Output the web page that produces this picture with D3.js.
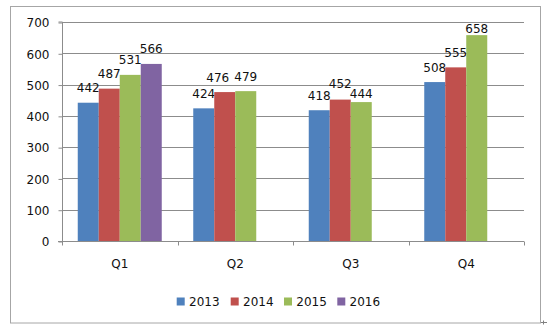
<!DOCTYPE html>
<html>
<head>
<meta charset="utf-8">
<script src="https://cdn.jsdelivr.net/npm/d3@7"></script>
<style>
html,body{margin:0;padding:0;background:#fff;}
svg{display:block;}
text{font-family:"DejaVu Sans",Verdana,sans-serif;font-size:12px;fill:#111;}
</style>
</head>
<body>
<svg id="chart" width="548" height="329"></svg>
<script>
const categories = ["Q1","Q2","Q3","Q4"];
const seriesNames = ["2013","2014","2015","2016"];
const v2013 = [442,424,418,508];
const v2014 = [487,476,452,555];
const v2015 = [531,479,444,658];
const v2016 = [566,null,null,null];
const yTicks = [0,100,200,300,400,500,600,700];
const colors = ["#4F81BD","#C0504D","#9BBB59","#8064A2"];

const seriesValues = [v2013,v2014,v2015,v2016];
const svg = d3.select("#chart");

// hand-placed label nudges seen in the original (layout only)
const labelNudge = {"Q2|2014":[-7,0], "Q3|2014":[0,-1.5], "Q3|2015":[0,6], "Q4|2015":[0,8]};

// frame
svg.append("rect").attr("x",10.5).attr("y",6.5).attr("width",530).attr("height",316.5)
  .attr("fill","none").attr("stroke","#a6a6a6").attr("stroke-width",1);

const plot = {l:62, r:524, t:22, b:241};
const x = d3.scaleBand().domain(categories).range([plot.l, plot.r]).paddingInner(0).paddingOuter(0);
// Excel gap width 150%: group = 4 bars + 1.5 bar gap
const barW = x.bandwidth()/5.5;
const xSub = d3.scaleBand().domain(seriesNames).range([barW*0.75, barW*4.75]);
const y = d3.scaleLinear().domain([0,700]).range([plot.b, plot.t]);

// gridlines
svg.append("g").selectAll("line").data(yTicks.filter(d=>d>0)).join("line")
  .attr("x1",plot.l).attr("x2",plot.r)
  .attr("y1",d=>Math.round(y(d))+0.5).attr("y2",d=>Math.round(y(d))+0.5)
  .attr("stroke","#8c8c8c").attr("stroke-width",1);

// y axis
const yAxis = d3.axisLeft(y).tickValues(yTicks).tickSize(4).tickPadding(9);
const gy = svg.append("g").attr("transform",`translate(${plot.l+0.5},0.5)`).call(yAxis);
gy.select(".domain").attr("stroke","#8c8c8c").attr("d",`M-4,${plot.t-0.5}H0V${plot.b-0.5}`);
gy.selectAll(".tick line").attr("stroke","#8c8c8c");
gy.selectAll(".tick text").attr("font-family","DejaVu Sans").attr("font-size","12px").attr("fill","#111").attr("dy","0.36em");

// bars
seriesNames.forEach((s,si)=>{
  const vals = seriesValues[si];
  const data = categories.map((c,i)=>({c, v: vals[i]})).filter(d=>d.v!=null);
  svg.append("g").selectAll("rect").data(data).join("rect")
    .attr("x",d=>x(d.c)+xSub(s))
    .attr("width",xSub.bandwidth())
    .attr("y",d=>y(d.v))
    .attr("height",d=>y(0)-y(d.v))
    .attr("fill",colors[si]);
  svg.append("g").selectAll("text").data(data).join("text")
    .attr("x",d=>x(d.c)+xSub(s)+xSub.bandwidth()/2+((labelNudge[d.c+"|"+s]||[0,0])[0]))
    .attr("y",d=>y(d.v)-10.5+((labelNudge[d.c+"|"+s]||[0,0])[1]))
    .attr("text-anchor","middle")
    .text(d=>d.v);
});

// x axis
const xAxis = d3.axisBottom(x).tickSize(0).tickPadding(18);
const gx = svg.append("g").attr("transform",`translate(0,${plot.b+0.5})`).call(xAxis);
gx.select(".domain").remove();
gx.selectAll(".tick text").attr("font-family","DejaVu Sans").attr("font-size","12px").attr("fill","#111");
gx.append("line").attr("x1",plot.l-4).attr("x2",plot.r).attr("y1",0).attr("y2",0).attr("stroke","#8c8c8c");
const bounds = categories.map(c=>x(c)).concat([plot.r]);
gx.selectAll(".bound").data(bounds).join("line").attr("class","bound")
  .attr("x1",d=>Math.round(d)+0.5).attr("x2",d=>Math.round(d)+0.5)
  .attr("y1",0).attr("y2",4).attr("stroke","#8c8c8c");

// legend
const legX = [176.7, 230.7, 284, 337.3];
const leg = svg.append("g");
seriesNames.forEach((s,i)=>{
  leg.append("rect").attr("x",legX[i]).attr("y",297.5).attr("width",8).attr("height",8).attr("fill",colors[i]);
  leg.append("text").attr("x",legX[i]+12.3).attr("y",305.5).text(s);
});

// small paragraph mark at bottom-right
svg.append("path").attr("d","M541,322.5H547M543.5,320.5V324.5").attr("stroke","#808080").attr("fill","none");
</script>
</body>
</html>
